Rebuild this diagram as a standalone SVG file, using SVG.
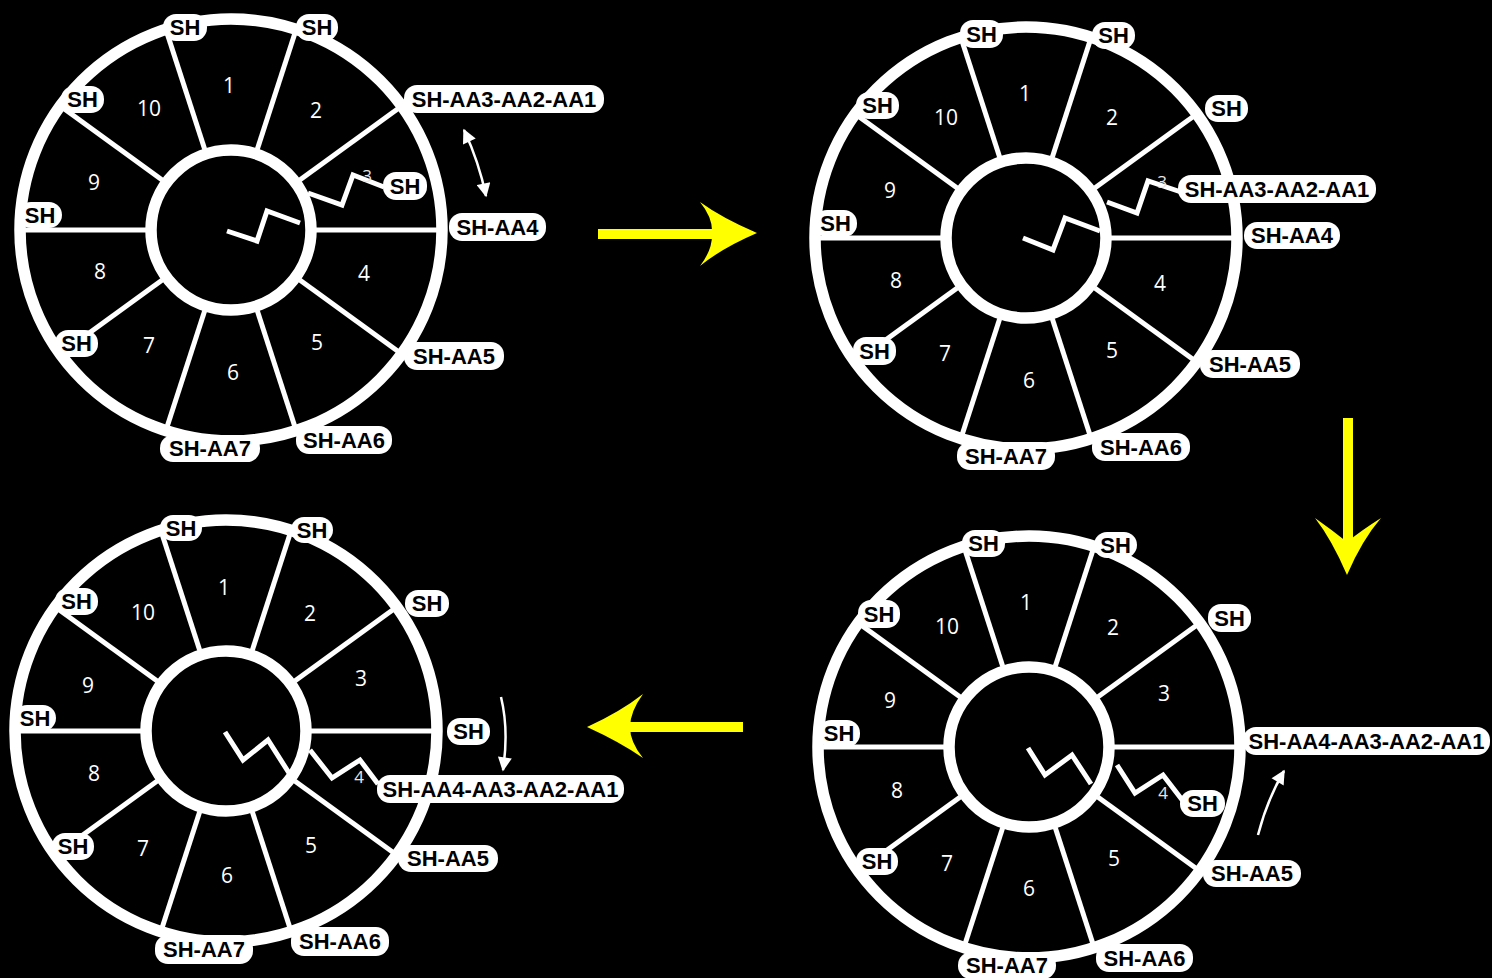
<svg xmlns="http://www.w3.org/2000/svg" xmlns:xlink="http://www.w3.org/1999/xlink" width="1492" height="978" viewBox="0 0 1492 978">
<style>
.ring{fill:none;stroke:#fff;stroke-width:11.5}
.spoke{stroke:#fff;stroke-width:5}
.chain{fill:none;stroke:#fff;stroke-width:5;stroke-linejoin:miter}
.tag{fill:#fff}
.tt{font-family:"Liberation Sans",Arial,sans-serif;font-weight:bold;font-size:22px;fill:#000;text-anchor:middle;dominant-baseline:central}
.num{font-family:"Open Sans","Noto Sans",sans-serif;font-size:21px;fill:#fff;text-anchor:middle;dominant-baseline:central}
.nums{font-family:"Open Sans","Noto Sans",sans-serif;font-size:17px;fill:#e6e6e6;text-anchor:middle;dominant-baseline:central}
.yel{fill:#ffff00}
.warr{fill:none;stroke:#fff;stroke-width:2.5}
</style>
<defs>
<marker id="ah" viewBox="0 0 10 10" refX="9" refY="5" markerWidth="15" markerHeight="14" markerUnits="userSpaceOnUse" orient="auto-start-reverse">
<path d="M0,0 L10,5 L0,10 z" fill="#fff"/>
</marker>
<g id="wheelBase">
<circle r="211" class="ring"/>
<circle r="80" class="ring"/>
<line class="spoke" x1="85" y1="0" x2="211" y2="0"/>
<line class="spoke" x1="68.8" y1="50" x2="170.7" y2="124"/>
<line class="spoke" x1="26.3" y1="80.8" x2="65.2" y2="200.7"/>
<line class="spoke" x1="-26.3" y1="80.8" x2="-65.2" y2="200.7"/>
<line class="spoke" x1="-68.8" y1="50" x2="-170.7" y2="124"/>
<line class="spoke" x1="-85" y1="0" x2="-211" y2="0"/>
<line class="spoke" x1="-68.8" y1="-50" x2="-170.7" y2="-124"/>
<line class="spoke" x1="-26.3" y1="-80.8" x2="-65.2" y2="-200.7"/>
<line class="spoke" x1="26.3" y1="-80.8" x2="65.2" y2="-200.7"/>
<line class="spoke" x1="68.8" y1="-50" x2="170.7" y2="-124"/>
</g>
</defs>
<rect width="1492" height="978" fill="#000"/>

<g id="wheel1">
<use xlink:href="#wheelBase" href="#wheelBase" transform="translate(231,230)"/>
<polyline class="chain" points="227,231 257,241 267,211 300,223"/>
<polyline class="chain" points="308,193 342,205 353,175 384,187"/>
<text class="num" x="229" y="85">1</text>
<text class="num" x="316" y="110">2</text>
<text class="nums" x="367" y="175">3</text>
<text class="num" x="364" y="273">4</text>
<text class="num" x="317" y="342">5</text>
<text class="num" x="233" y="372">6</text>
<text class="num" x="149" y="345">7</text>
<text class="num" x="100" y="271">8</text>
<text class="num" x="94" y="182">9</text>
<text class="num" x="149" y="108">10</text>
<rect class="tag" x="163" y="14" width="44" height="27" rx="13"/><text class="tt" x="185" y="27.5">SH</text>
<rect class="tag" x="296" y="14" width="42" height="27" rx="13"/><text class="tt" x="317" y="27.5">SH</text>
<rect class="tag" x="404" y="85" width="200" height="28" rx="13"/><text class="tt" x="504" y="99">SH-AA3-AA2-AA1</text>
<rect class="tag" x="449" y="213" width="97" height="28" rx="13"/><text class="tt" x="497.5" y="227">SH-AA4</text>
<rect class="tag" x="404" y="342" width="100" height="28" rx="13"/><text class="tt" x="454" y="356">SH-AA5</text>
<rect class="tag" x="296" y="426" width="96" height="28" rx="13"/><text class="tt" x="344" y="440">SH-AA6</text>
<rect class="tag" x="160" y="435" width="100" height="27" rx="13"/><text class="tt" x="210" y="448.5">SH-AA7</text>
<rect class="tag" x="55" y="330" width="43" height="27" rx="13"/><text class="tt" x="76.5" y="343.5">SH</text>
<rect class="tag" x="18" y="202" width="44" height="26" rx="13"/><text class="tt" x="40" y="215">SH</text>
<rect class="tag" x="61" y="86" width="43" height="27" rx="13"/><text class="tt" x="82.5" y="99.5">SH</text>
<rect class="tag" x="383" y="172" width="44" height="28" rx="13"/><text class="tt" x="405" y="186">SH</text>
</g>

<g id="wheel2">
<use xlink:href="#wheelBase" href="#wheelBase" transform="translate(1026,238)"/>
<polyline class="chain" points="1023,238 1053,250 1065,218 1100,231"/>
<polyline class="chain" points="1107,202 1137,213 1148,181 1181,192"/>
<text class="num" x="1025" y="93">1</text>
<text class="num" x="1112" y="117">2</text>
<text class="nums" x="1162" y="181">3</text>
<text class="num" x="1160" y="283">4</text>
<text class="num" x="1112" y="350">5</text>
<text class="num" x="1029" y="380">6</text>
<text class="num" x="945" y="353">7</text>
<text class="num" x="896" y="280">8</text>
<text class="num" x="890" y="190">9</text>
<text class="num" x="946" y="117">10</text>
<rect class="tag" x="960" y="20" width="43" height="28" rx="13"/><text class="tt" x="981.5" y="34">SH</text>
<rect class="tag" x="1092" y="22" width="43" height="27" rx="13"/><text class="tt" x="1113.5" y="35.5">SH</text>
<rect class="tag" x="1205" y="95" width="43" height="27" rx="13"/><text class="tt" x="1226.5" y="108.5">SH</text>
<rect class="tag" x="1178" y="175" width="198" height="28" rx="13"/><text class="tt" x="1277" y="189">SH-AA3-AA2-AA1</text>
<rect class="tag" x="1244" y="222" width="96" height="27" rx="13"/><text class="tt" x="1292" y="235.5">SH-AA4</text>
<rect class="tag" x="1200" y="350" width="100" height="28" rx="13"/><text class="tt" x="1250" y="364">SH-AA5</text>
<rect class="tag" x="1092" y="433" width="98" height="28" rx="13"/><text class="tt" x="1141" y="447">SH-AA6</text>
<rect class="tag" x="957" y="442" width="98" height="28" rx="13"/><text class="tt" x="1006" y="456">SH-AA7</text>
<rect class="tag" x="853" y="337" width="43" height="28" rx="13"/><text class="tt" x="874.5" y="351">SH</text>
<rect class="tag" x="814" y="210" width="43" height="27" rx="13"/><text class="tt" x="835.5" y="223.5">SH</text>
<rect class="tag" x="856" y="92" width="43" height="27" rx="13"/><text class="tt" x="877.5" y="105.5">SH</text>
</g>

<g id="wheel3">
<use xlink:href="#wheelBase" href="#wheelBase" transform="translate(226,731)"/>
<polyline class="chain" points="225,732 243,760 268,740 289,773"/>
<polyline class="chain" points="310,750 332,778 360,760 378,784"/>
<text class="num" x="224" y="587">1</text>
<text class="num" x="310" y="613">2</text>
<text class="num" x="361" y="678">3</text>
<text class="nums" x="359" y="776">4</text>
<text class="num" x="311" y="845">5</text>
<text class="num" x="227" y="875">6</text>
<text class="num" x="143" y="848">7</text>
<text class="num" x="94" y="773">8</text>
<text class="num" x="88" y="685">9</text>
<text class="num" x="143" y="612">10</text>
<rect class="tag" x="160" y="515" width="42" height="26" rx="13"/><text class="tt" x="181" y="528">SH</text>
<rect class="tag" x="291" y="517" width="42" height="26" rx="13"/><text class="tt" x="312" y="530">SH</text>
<rect class="tag" x="405" y="590" width="44" height="27" rx="13"/><text class="tt" x="427" y="603.5">SH</text>
<rect class="tag" x="447" y="718" width="43" height="27" rx="13"/><text class="tt" x="468.5" y="731.5">SH</text>
<rect class="tag" x="377" y="775" width="247" height="28" rx="13"/><text class="tt" x="500.5" y="789">SH-AA4-AA3-AA2-AA1</text>
<rect class="tag" x="398" y="845" width="100" height="27" rx="13"/><text class="tt" x="448" y="858.5">SH-AA5</text>
<rect class="tag" x="291" y="927" width="98" height="29" rx="13"/><text class="tt" x="340" y="941.5">SH-AA6</text>
<rect class="tag" x="155" y="935" width="98" height="29" rx="13"/><text class="tt" x="204" y="949.5">SH-AA7</text>
<rect class="tag" x="52" y="833" width="42" height="27" rx="13"/><text class="tt" x="73" y="846.5">SH</text>
<rect class="tag" x="14" y="705" width="42" height="26" rx="13"/><text class="tt" x="35" y="718">SH</text>
<rect class="tag" x="55" y="588" width="43" height="27" rx="13"/><text class="tt" x="76.5" y="601.5">SH</text>
</g>

<g id="wheel4">
<use xlink:href="#wheelBase" href="#wheelBase" transform="translate(1029,747)"/>
<polyline class="chain" points="1028,748 1045,775 1072,755 1091,784"/>
<polyline class="chain" points="1117,765 1135,793 1163,775 1183,801"/>
<text class="num" x="1026" y="602">1</text>
<text class="num" x="1113" y="627">2</text>
<text class="num" x="1164" y="693">3</text>
<text class="nums" x="1163" y="792">4</text>
<text class="num" x="1114" y="858">5</text>
<text class="num" x="1029" y="888">6</text>
<text class="num" x="947" y="863">7</text>
<text class="num" x="897" y="790">8</text>
<text class="num" x="890" y="700">9</text>
<text class="num" x="947" y="626">10</text>
<rect class="tag" x="962" y="530" width="43" height="27" rx="13"/><text class="tt" x="983.5" y="543.5">SH</text>
<rect class="tag" x="1094" y="532" width="43" height="26" rx="13"/><text class="tt" x="1115.5" y="545">SH</text>
<rect class="tag" x="1208" y="604" width="43" height="28" rx="13"/><text class="tt" x="1229.5" y="618">SH</text>
<rect class="tag" x="1243" y="727" width="247" height="28" rx="13"/><text class="tt" x="1366.5" y="741">SH-AA4-AA3-AA2-AA1</text>
<rect class="tag" x="1180" y="790" width="45" height="27" rx="13"/><text class="tt" x="1202.5" y="803.5">SH</text>
<rect class="tag" x="1203" y="860" width="98" height="27" rx="13"/><text class="tt" x="1252" y="873.5">SH-AA5</text>
<rect class="tag" x="1096" y="944" width="97" height="28" rx="13"/><text class="tt" x="1144.5" y="958">SH-AA6</text>
<rect class="tag" x="958" y="952" width="98" height="27" rx="13"/><text class="tt" x="1007" y="965.5">SH-AA7</text>
<rect class="tag" x="856" y="848" width="42" height="27" rx="13"/><text class="tt" x="877" y="861.5">SH</text>
<rect class="tag" x="818" y="720" width="42" height="27" rx="13"/><text class="tt" x="839" y="733.5">SH</text>
<rect class="tag" x="858" y="600" width="42" height="28" rx="13"/><text class="tt" x="879" y="614">SH</text>
</g>

<g id="connectors">
<rect class="yel" x="598" y="229" width="116" height="10"/>
<path class="yel" d="M757,233 Q722,218 700,202 Q713,218 712,233 Q713,249 700,266 Q722,248 757,233 Z"/>
<rect class="yel" x="1343" y="418" width="10" height="124"/>
<path class="yel" d="M1347,575 Q1332,540 1315,518 Q1332,530 1347,542 Q1362,530 1381,518 Q1362,540 1347,575 Z"/>
<rect class="yel" x="628" y="722" width="115" height="10"/>
<path class="yel" d="M587,727 Q620,712 643,694 Q630,712 630,727 Q630,742 643,758 Q620,742 587,727 Z"/>
<path class="warr" d="M464,130 Q479,162 486,196" marker-start="url(#ah)" marker-end="url(#ah)"/>
<path class="warr" d="M501,697 Q509,730 503,770" marker-end="url(#ah)"/>
<path class="warr" d="M1258,835 Q1267,800 1284,771" marker-end="url(#ah)"/>
</g>
</svg>
